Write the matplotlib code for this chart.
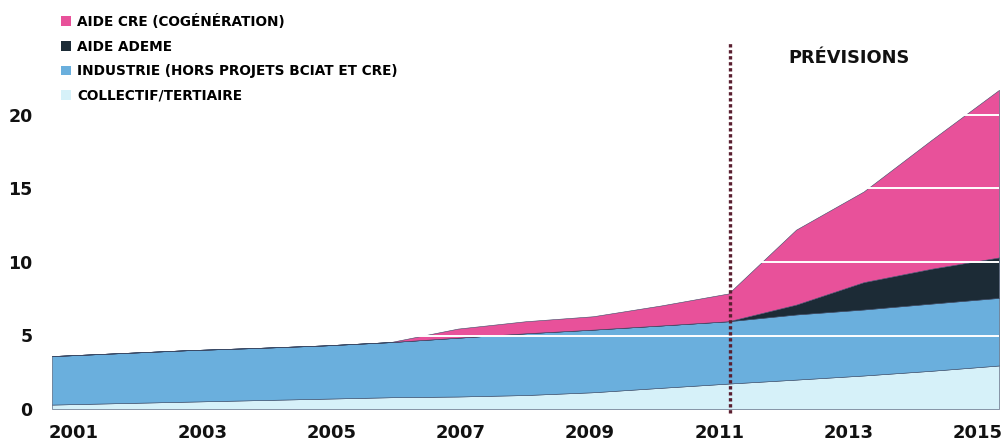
import matplotlib
matplotlib.use("Agg")
import matplotlib.pyplot as plt
from matplotlib.patches import Patch

years = list(range(2001, 2016))
collectif = [0.3, 0.4, 0.5, 0.6, 0.7, 0.8, 0.85, 0.95, 1.14, 1.44, 1.73, 2.0, 2.28, 2.6, 2.96]
industrie = [3.3, 3.4, 3.5, 3.55, 3.62, 3.75, 4.0, 4.2, 4.26, 4.24, 4.24, 4.43, 4.49, 4.57, 4.6]
ademe = [0, 0, 0, 0, 0, 0, 0, 0, 0, 0, 0, 0.67, 1.86, 2.37, 2.75]
cre = [0, 0, 0, 0, 0, 0, 0.62, 0.82, 0.91, 1.36, 1.89, 5.1, 6.17, 8.76, 11.4]

series_labels = ["COLLECTIF/TERTIAIRE", "INDUSTRIE (HORS PROJETS BCIAT ET CRE)",
                 "AIDE ADEME", "AIDE CRE (COGÉNÉRATION)"]
series_colors = ["#d6f1f9", "#6aafdd", "#1c2b36", "#e8519a"]
y_ticks = [0, 5, 10, 15, 20]
x_ticks = list(range(2001, 2016, 2))
forecast_start = 2011
forecast_label = "PRÉVISIONS"

fig = plt.figure(figsize=(10.01, 4.41), dpi=100)
ax = fig.add_axes([52 / 1001, 32 / 441, 947 / 1001, 367.5 / 441])

ax.stackplot(years, collectif, industrie, ademe, cre, colors=series_colors,
             edgecolor="#3a4a66", linewidth=0.4, zorder=1)

for v in y_ticks[1:]:
    ax.axhline(v, color="white", lw=1.4, zorder=2)

ax.axvline(forecast_start + 0.03, ymin=-0.01, ymax=1.0, color="#5a1f30", lw=2.4,
           linestyle=(0, (1, 0.8)), zorder=3, clip_on=False)
ax.text(2012.78, 23.9, forecast_label, ha="center", va="center",
        fontsize=12.8, fontweight="heavy", color="#111111")

ax.set_xlim(2001, 2015)
ax.set_ylim(0, 25)
ax.set_yticks(y_ticks)
ax.set_yticklabels([str(v) for v in y_ticks], fontsize=12.5, fontweight="heavy")
# labels sit a little inward from the data extent in the original
ax.set_xticks([2008 + (y - 2008) * 0.955 for y in x_ticks])
ax.set_xticklabels([str(y) for y in x_ticks], fontsize=13, fontweight="heavy")
ax.tick_params(length=0, pad=14, colors="#111111")
ax.tick_params(axis="x", pad=11)
for s in ax.spines.values():
    s.set_visible(False)

handles = [Patch(facecolor=c, edgecolor="none") for c in series_colors[::-1]]
fig.legend(handles, series_labels[::-1], loc="upper left",
           bbox_to_anchor=(61 / 1001, 1 - 14 / 441), frameon=False,
           borderaxespad=0, borderpad=0, handlelength=0.75, handleheight=0.75,
           handletextpad=0.45, labelspacing=0.78,
           prop={"size": 9.8, "weight": "bold"})

fig.savefig("out.png", dpi=100)
